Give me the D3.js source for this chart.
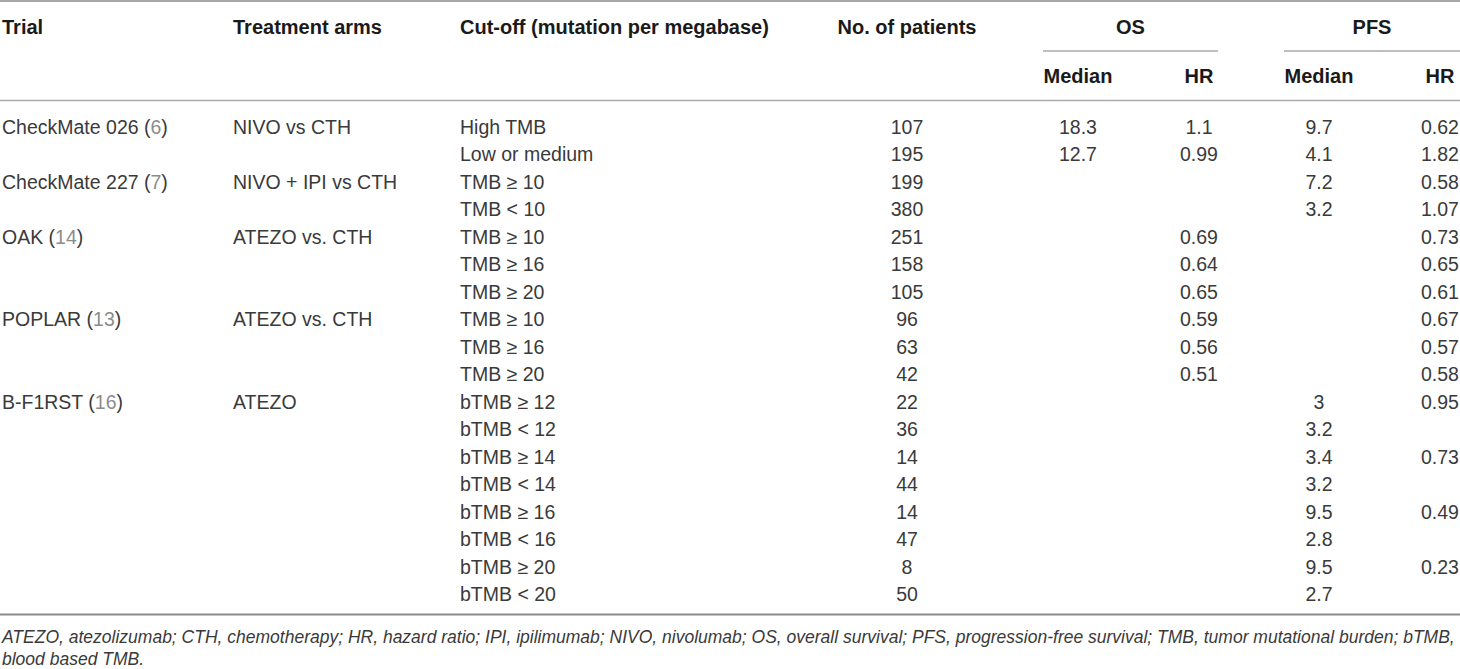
<!DOCTYPE html>
<html>
<head>
<meta charset="utf-8">
<script src="https://cdn.jsdelivr.net/npm/d3@7"></script>
<style>
  body { margin: 0; background: #fff; }
  text { font-family: "Liberation Sans", Arial, sans-serif; }
</style>
</head>
<body>
<div id="table"></div>
<script>
var w = 1460,
    h = 669;

// table data
var trials = ["CheckMate 026", "", "CheckMate 227", "", "OAK", "", "", "POPLAR", "", "", "B-F1RST", "", "", "", "", "", "", ""];
var refs = ["6", "", "7", "", "14", "", "", "13", "", "", "16", "", "", "", "", "", "", ""];
var arms = ["NIVO vs CTH", "", "NIVO + IPI vs CTH", "", "ATEZO vs. CTH", "", "", "ATEZO vs. CTH", "", "", "ATEZO", "", "", "", "", "", "", ""];
var cutoffs = ["High TMB", "Low or medium", "TMB \u2265 10", "TMB < 10", "TMB \u2265 10", "TMB \u2265 16", "TMB \u2265 20",
  "TMB \u2265 10", "TMB \u2265 16", "TMB \u2265 20", "bTMB \u2265 12", "bTMB < 12", "bTMB \u2265 14", "bTMB < 14",
  "bTMB \u2265 16", "bTMB < 16", "bTMB \u2265 20", "bTMB < 20"];
var patients = ["107", "195", "199", "380", "251", "158", "105", "96", "63", "42", "22", "36", "14", "44", "14", "47", "8", "50"];
var osMedian = ["18.3", "12.7", "", "", "", "", "", "", "", "", "", "", "", "", "", "", "", ""];
var osHR = ["1.1", "0.99", "", "", "0.69", "0.64", "0.65", "0.59", "0.56", "0.51", "", "", "", "", "", "", "", ""];
var pfsMedian = ["9.7", "4.1", "7.2", "3.2", "", "", "", "", "", "", "3", "3.2", "3.4", "3.2", "9.5", "2.8", "9.5", "2.7"];
var pfsHR = ["0.62", "1.82", "0.58", "1.07", "0.73", "0.65", "0.61", "0.67", "0.57", "0.58", "0.95", "", "0.73", "", "0.49", "", "0.23", ""];

var headers = ["Trial", "Treatment arms", "Cut-off (mutation per megabase)", "No. of patients"];
var groups = ["OS", "PFS"];
var subHeaders = ["Median", "HR", "Median", "HR"];
var footnote = ["ATEZO, atezolizumab; CTH, chemotherapy; HR, hazard ratio; IPI, ipilimumab; NIVO, nivolumab; OS, overall survival; PFS, progression-free survival; TMB, tumor mutational burden; bTMB,",
  "blood based TMB."];

var svg = d3.select("#table")
  .append("svg")
  .attr("width", w)
  .attr("height", h);

// row positions
var y = d3.scalePoint()
  .domain(d3.range(cutoffs.length))
  .range([127, 594.5]);

// column positions
var colX = d3.scaleOrdinal()
  .domain(["trial", "arms", "cutoff", "patients", "osMedian", "osHR", "pfsMedian", "pfsHR"])
  .range([2, 233, 460, 907, 1078, 1199, 1319, 1440]);

var groupX = d3.scaleOrdinal().domain(groups).range([[1043, 1218], [1284, 1460]]);

var fs = 19.5,
    hfs = 20;

// rules
svg.append("line").attr("x1", 0).attr("x2", w).attr("y1", 1).attr("y2", 1)
  .attr("stroke", "#8a8a8a").attr("stroke-width", 1.6);
svg.append("line").attr("x1", 0).attr("x2", w).attr("y1", 100.5).attr("y2", 100.5)
  .attr("stroke", "#aaa").attr("stroke-width", 1.3);
svg.append("line").attr("x1", 0).attr("x2", w).attr("y1", 614.5).attr("y2", 614.5)
  .attr("stroke", "#8a8a8a").attr("stroke-width", 1.8);

svg.selectAll(".grouprule")
  .data(groups)
  .enter()
  .append("line")
  .attr("class", "grouprule")
  .attr("x1", function(d) {return groupX(d)[0];})
  .attr("x2", function(d) {return groupX(d)[1];})
  .attr("y1", 51)
  .attr("y2", 51)
  .attr("stroke", "#aaa")
  .attr("stroke-width", 1.3);

// headers
var headCols = ["trial", "arms", "cutoff", "patients"];
svg.selectAll(".head")
  .data(headers)
  .enter()
  .append("text")
  .attr("class", "head")
  .attr("x", function(d, i) {return colX(headCols[i]);})
  .attr("y", 27)
  .attr("dy", "0.35em")
  .attr("text-anchor", function(d, i) {return i == 3 ? "middle" : "start";})
  .attr("font-size", hfs + "px")
  .attr("font-weight", "bold")
  .attr("fill", "#1a1a1a")
  .text(function(d) {return d;});

svg.selectAll(".group")
  .data(groups)
  .enter()
  .append("text")
  .attr("class", "group")
  .attr("x", function(d) {var r = groupX(d); return (r[0] + r[1]) / 2;})
  .attr("y", 27)
  .attr("dy", "0.35em")
  .attr("text-anchor", "middle")
  .attr("font-size", hfs + "px")
  .attr("font-weight", "bold")
  .attr("fill", "#1a1a1a")
  .text(function(d) {return d;});

var subCols = ["osMedian", "osHR", "pfsMedian", "pfsHR"];
svg.selectAll(".sub")
  .data(subHeaders)
  .enter()
  .append("text")
  .attr("class", "sub")
  .attr("x", function(d, i) {return colX(subCols[i]);})
  .attr("y", 76)
  .attr("dy", "0.35em")
  .attr("text-anchor", "middle")
  .attr("font-size", hfs + "px")
  .attr("font-weight", "bold")
  .attr("fill", "#1a1a1a")
  .text(function(d) {return d;});

// body cells
var textColor = "#3a3a3a";

var trialText = svg.selectAll(".trial")
  .data(trials)
  .enter()
  .append("text")
  .attr("class", "trial")
  .attr("x", colX("trial"))
  .attr("y", function(d, i) {return y(i);})
  .attr("dy", "0.35em")
  .attr("font-size", fs + "px")
  .attr("fill", textColor);
trialText.append("tspan").text(function(d) {return d ? d + " (" : "";});
trialText.append("tspan").attr("fill", "#8c8c8c").text(function(d, i) {return refs[i];});
trialText.append("tspan").text(function(d) {return d ? ")" : "";});

function column(cls, values, anchor) {
  svg.selectAll("." + cls)
    .data(values)
    .enter()
    .append("text")
    .attr("class", cls)
    .attr("x", colX(cls))
    .attr("y", function(d, i) {return y(i);})
    .attr("dy", "0.35em")
    .attr("text-anchor", anchor)
    .attr("font-size", fs + "px")
    .attr("fill", textColor)
    .text(function(d) {return d;});
}

column("arms", arms, "start");
column("cutoff", cutoffs, "start");
column("patients", patients, "middle");
column("osMedian", osMedian, "middle");
column("osHR", osHR, "middle");
column("pfsMedian", pfsMedian, "middle");
column("pfsHR", pfsHR, "middle");

// footnote
svg.selectAll(".foot")
  .data(footnote)
  .enter()
  .append("text")
  .attr("class", "foot")
  .attr("x", 2)
  .attr("y", function(d, i) {return 637 + i * 21.5;})
  .attr("dy", "0.35em")
  .attr("font-size", "17.5px")
  .attr("font-style", "italic")
  .attr("fill", textColor)
  .text(function(d) {return d;});
</script>
</body>
</html>
